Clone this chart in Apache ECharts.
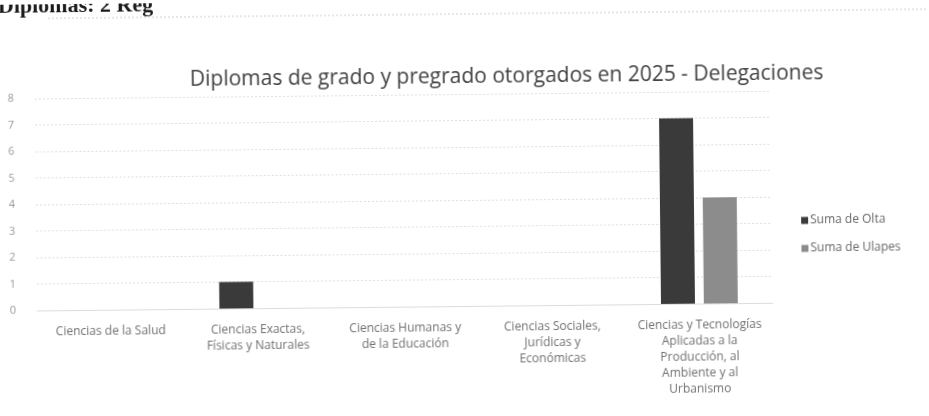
<!DOCTYPE html>
<html>
<head>
<meta charset="utf-8">
<script src="https://cdn.jsdelivr.net/npm/echarts@6/dist/echarts.min.js"></script>
<style>
  html, body { margin: 0; padding: 0; background: #ffffff; overflow: hidden; }
  #chart { width: 929px; height: 416px; transform: rotate(-0.6deg); transform-origin: 50% 50%; }
</style>
</head>
<body>
<div id="chart"></div>
<script>
// Diplomas por unidad académica, delegaciones Olta y Ulapes
const categories = [
  'Ciencias de la Salud',
  'Ciencias Exactas,\nFísicas y Naturales',
  'Ciencias Humanas y\nde la Educación',
  'Ciencias Sociales,\nJurídicas y\nEconómicas',
  'Ciencias y Tecnologías\nAplicadas a la\nProducción, al\nAmbiente y al\nUrbanismo'
];
const seriesNames = ['Suma de Olta', 'Suma de Ulapes'];
const oltaValues = [0, 1, 0, 0, 7];
const ulapesValues = [0, 0, 0, 0, 4];
const yTicks = { min: 0, max: 8, interval: 1 };
const titleText = 'Diplomas de grado y pregrado otorgados en 2025 - Delegaciones';
const headingText = 'Diplomas: 2 Reg';

const font = '"Open Sans", "Noto Sans", sans-serif';
const chart = echarts.init(document.getElementById('chart'), null, { renderer: 'canvas' });

chart.setOption({
  backgroundColor: '#ffffff',
  animation: false,
  title: {
    text: titleText,
    left: 503,
    textAlign: 'center',
    top: 62,
    textStyle: { fontFamily: font, fontSize: 21, fontWeight: 'normal', color: '#404040' }
  },
  graphic: [
    {
      type: 'text',
      left: 0,
      top: -9,
      style: { text: headingText, font: 'bold 22px "Liberation Serif", "DejaVu Serif", serif', fill: '#1a1a1a' }
    },
    {
      type: 'line',
      shape: { x1: 50, y1: 14, x2: 929, y2: 14 },
      style: { stroke: '#cfcfcf', lineWidth: 1, lineDash: [2, 2] }
    }
  ],
  legend: {
    orient: 'vertical',
    left: 796,
    top: 213,
    itemWidth: 7,
    itemHeight: 7,
    itemGap: 16,
    icon: 'rect',
    textStyle: { fontFamily: font, fontSize: 12, color: '#666666', padding: [0, 0, 0, -3] },
    data: seriesNames
  },
  grid: { left: 36, right: 157, top: 94, bottom: 110, containLabel: false },
  xAxis: {
    type: 'category',
    data: categories,
    axisLine: { show: true, lineStyle: { color: '#dcdcdc' } },
    axisTick: { show: false },
    axisLabel: {
      interval: 0,
      fontFamily: font,
      fontSize: 12,
      color: '#707070',
      lineHeight: 16,
      margin: 14
    }
  },
  yAxis: {
    type: 'value',
    min: yTicks.min,
    max: yTicks.max,
    interval: yTicks.interval,
    axisLine: { show: false },
    axisTick: { show: false },
    axisLabel: { fontFamily: font, fontSize: 11, color: '#9a9a9a', margin: 21 },
    splitLine: { lineStyle: { color: '#dedede', width: 1, type: [2, 2] } }
  },
  series: [
    {
      name: seriesNames[0],
      type: 'bar',
      data: oltaValues,
      barWidth: 34,
      barGap: '26%',
      itemStyle: { color: '#3a3a3a' }
    },
    {
      name: seriesNames[1],
      type: 'bar',
      data: ulapesValues,
      barWidth: 34,
      itemStyle: { color: '#8c8c8c' }
    }
  ]
});
</script>
</body>
</html>
